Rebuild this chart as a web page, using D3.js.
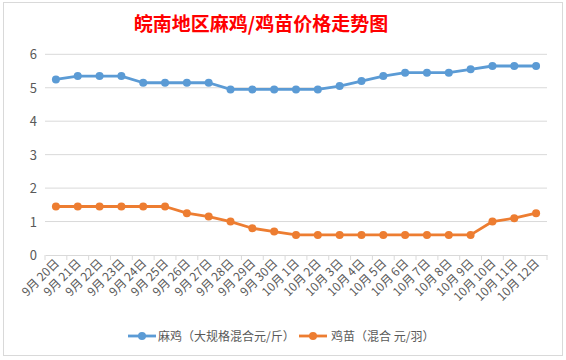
<!DOCTYPE html>
<html><head><meta charset="utf-8">
<script src="https://cdn.jsdelivr.net/npm/d3@7"></script>
<style>body{margin:0;background:#fff;}svg{display:block;font-family:"Noto Sans CJK SC","Noto Sans",sans-serif;}</style>
</head><body>
<svg id="c" width="566" height="360"></svg>
<script>
const categories = ["9月 20日","9月 21日","9月 22日","9月 23日","9月 24日","9月 25日","9月 26日","9月 27日","9月 28日","9月 29日","9月 30日","10月 1日","10月 2日","10月 3日","10月 4日","10月 5日","10月 6日","10月 7日","10月 8日","10月 9日","10月 10日","10月 11日","10月 12日"];
const majiValues = [5.25,5.35,5.35,5.35,5.15,5.15,5.15,5.15,4.95,4.95,4.95,4.95,4.95,5.05,5.2,5.35,5.45,5.45,5.45,5.55,5.65,5.65,5.65];
const jimiaoValues = [1.45,1.45,1.45,1.45,1.45,1.45,1.25,1.15,1.0,0.8,0.7,0.6,0.6,0.6,0.6,0.6,0.6,0.6,0.6,0.6,1.0,1.1,1.25];
const yTicks = [0,1,2,3,4,5,6];
const seriesNames = ["麻鸡（大规格混合元/斤）","鸡苗（混合 元/羽）"];
const colors = ["#5b9bd5","#ed7d31"];
const title = "皖南地区麻鸡/鸡苗价格走势图";

const svg = d3.select("#c");
// chart border
svg.append("rect").attr("x",3.5).attr("y",2.5).attr("width",559).attr("height",353)
  .attr("fill","#fff").attr("stroke","#d9d9d9");

const x = d3.scaleBand().domain(categories).range([45,547]);
const y = d3.scaleLinear().domain([0,6]).range([255,54.3]);

// gridlines
svg.append("g").selectAll("line").data(yTicks.filter(d=>d>0)).join("line")
  .attr("x1",45).attr("x2",547).attr("y1",d=>y(d)).attr("y2",d=>y(d))
  .attr("stroke","#d9d9d9").attr("stroke-width",1);

// y axis labels
svg.append("g").selectAll("text").data(yTicks).join("text")
  .attr("x",37).attr("y",d=>y(d)+5).attr("text-anchor","end")
  .attr("font-size",13).attr("fill","#595959").text(d=>d);

// x axis
const xAxis = d3.axisBottom(x).tickSize(0).tickFormat("");
const gx = svg.append("g").attr("transform","translate(0,255)").call(xAxis);
gx.select(".domain").attr("stroke","#d9d9d9");
// boundary ticks
const bounds = categories.map(c=>x(c)).concat([x.range()[1]]);
svg.append("g").selectAll("line").data(bounds).join("line")
  .attr("x1",d=>d).attr("x2",d=>d).attr("y1",255).attr("y2",260)
  .attr("stroke","#d9d9d9");
// labels
svg.append("g").selectAll("text").data(categories).join("text")
  .attr("transform",d=>`translate(${x(d)+x.bandwidth()/2+4},${264}) rotate(-45)`)
  .attr("text-anchor","end").attr("font-size",12).attr("fill","#595959").text(d=>d);

// lines
const seriesData = [majiValues, jimiaoValues];
const line = d3.line().x((d,i)=>x(categories[i])+x.bandwidth()/2).y(d=>y(d));
seriesData.forEach((vals,si)=>{
  svg.append("path").datum(vals).attr("d",line).attr("fill","none")
    .attr("stroke",colors[si]).attr("stroke-width",2.8).attr("stroke-linejoin","round");
  svg.append("g").selectAll("circle").data(vals).join("circle")
    .attr("cx",(d,i)=>x(categories[i])+x.bandwidth()/2).attr("cy",d=>y(d))
    .attr("r",4).attr("fill",colors[si]);
});

// title
svg.append("text").attr("x",261).attr("y",31).attr("text-anchor","middle")
  .attr("font-size",19).attr("font-weight","bold").attr("fill","#ff0000").text(title);

// legend
const leg = [{x0:128,tx:158},{x0:299,tx:331}];
leg.forEach((l,i)=>{
  svg.append("line").attr("x1",l.x0).attr("x2",l.x0+28).attr("y1",336).attr("y2",336)
    .attr("stroke",colors[i]).attr("stroke-width",2.8);
  svg.append("circle").attr("cx",l.x0+14).attr("cy",336).attr("r",4).attr("fill",colors[i]);
  svg.append("text").attr("x",l.tx).attr("y",340.5).attr("font-size",12).attr("fill","#595959").text(seriesNames[i]);
});
</script>
</body></html>
